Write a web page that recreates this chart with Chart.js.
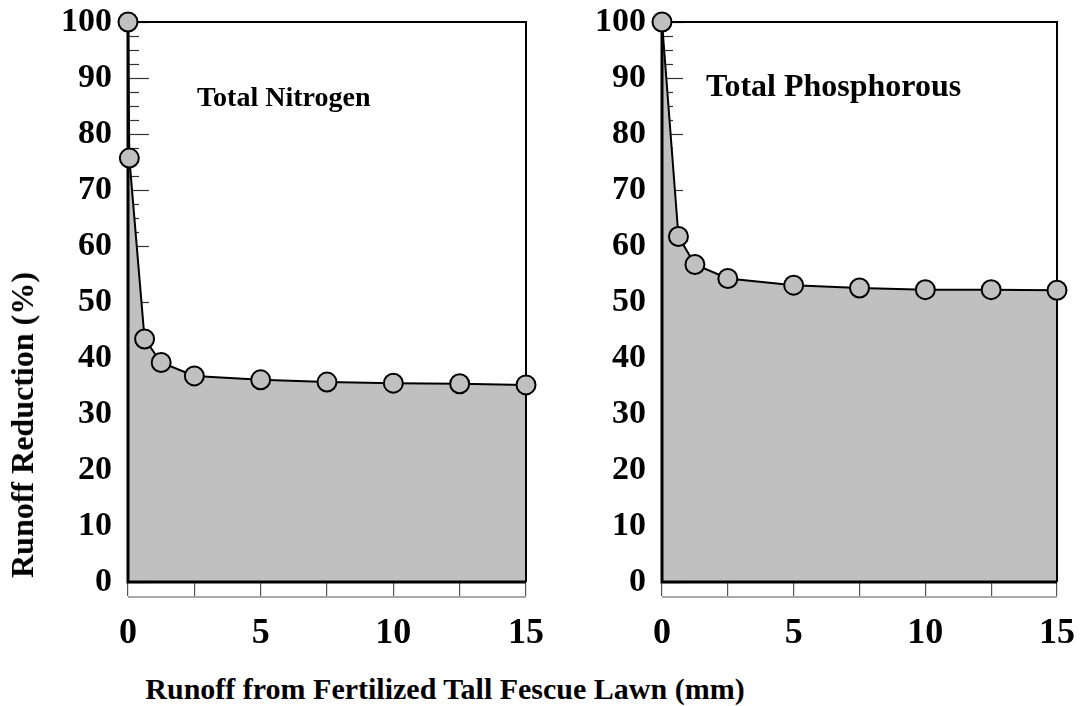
<!DOCTYPE html>
<html>
<head>
<meta charset="utf-8">
<script src="https://cdn.jsdelivr.net/npm/chart.js@4.4.0/dist/chart.umd.min.js"></script>
<style>
  html, body { margin: 0; padding: 0; background: #fff; overflow: hidden; }
  #wrap { position: relative; width: 1081px; height: 706px; font-family: "Liberation Serif", "Times New Roman", serif; font-weight: bold; color: #000; }
  .box { position: absolute; top: 0; height: 660px; }
  #boxN { left: 0; width: 545px; }
  #boxP { left: 540px; width: 541px; }
  .lbl { position: absolute; white-space: nowrap; line-height: 1; }
</style>
</head>
<body>
<div id="wrap">
  <div class="box" id="boxN"><canvas id="chartN"></canvas></div>
  <div class="box" id="boxP"><canvas id="chartP"></canvas></div>
  <div class="lbl" id="titleN" style="left:197px;top:83px;font-size:28px">Total Nitrogen</div>
  <div class="lbl" id="titleP" style="left:706px;top:69px;font-size:32px">Total Phosphorous</div>
  <div class="lbl" id="yTitle" style="left:22px;top:425px;font-size:32px;transform:translate(-50%,-50%) rotate(-90deg)">Runoff Reduction (%)</div>
  <div class="lbl" id="xTitle" style="left:445px;top:689px;font-size:30px;transform:translate(-50%,-50%)">Runoff from Fertilized Tall Fescue Lawn (mm)</div>
</div>
<script>
// Runoff depth (mm) and % reduction
const nitrogenX = [0, 0.05, 0.625, 1.25, 2.5, 5, 7.5, 10, 12.5, 15];
const nitrogenY = [100, 75.7, 43.4, 39.2, 36.8, 36.1, 35.7, 35.5, 35.4, 35.2];
const phosphorusX = [0, 0.625, 1.25, 2.5, 5, 7.5, 10, 12.5, 15];
const phosphorusY = [100, 61.7, 56.7, 54.2, 53.0, 52.5, 52.2, 52.2, 52.1];

const xTickLabels = [0, 5, 10, 15];
const yTickLabels = [0, 10, 20, 30, 40, 50, 60, 70, 80, 90, 100];

const FONT = '"Liberation Serif", "Times New Roman", serif';

// inner y ticks (under the fill), frame lines, and the strip below the x axis
const framePlugin = {
  id: 'frame',
  beforeDraw(chart) {
    const { ctx, chartArea: a, scales: { y } } = chart;
    ctx.save();
    ctx.strokeStyle = '#333';
    ctx.lineWidth = 1.2;
    y.ticks.forEach(t => {
      const py = Math.round(y.getPixelForValue(t.value)) + 0.5;
      const len = yTickLabels.includes(t.value) ? 21 : 11;
      ctx.beginPath();
      ctx.moveTo(a.left, py);
      ctx.lineTo(a.left + len, py);
      ctx.stroke();
    });
    ctx.restore();
  },
  beforeDatasetsDraw(chart) {
    const { ctx, chartArea: a } = chart;
    ctx.save();
    ctx.strokeStyle = '#000';
    ctx.lineWidth = 2;
    ctx.beginPath();
    ctx.moveTo(a.left, a.top);
    ctx.lineTo(a.right, a.top);
    ctx.lineTo(a.right, a.bottom);
    ctx.stroke();
    ctx.lineWidth = 3;
    ctx.beginPath();
    ctx.moveTo(a.left, a.top);
    ctx.lineTo(a.left, a.bottom);
    ctx.lineTo(a.right, a.bottom);
    ctx.stroke();
    ctx.restore();
  },
  afterDraw(chart) {
    const { ctx, chartArea: a } = chart;
    ctx.save();
    ctx.strokeStyle = '#555';
    ctx.lineWidth = 1.2;
    ctx.beginPath();
    ctx.moveTo(a.left, a.bottom + 15);
    ctx.lineTo(a.right, a.bottom + 15);
    ctx.stroke();
    ctx.restore();
  },
};

function makeChart(id, xs, ys, yAxisWidth, padRight) {
  return new Chart(document.getElementById(id), {
    type: 'line',
    data: {
      datasets: [{
        data: xs.map((x, i) => ({ x, y: ys[i] })),
        borderColor: '#000',
        borderWidth: 2,
        backgroundColor: '#c0c0c0',
        fill: 'origin',
        tension: 0,
        pointRadius: 9.5,
        pointHoverRadius: 9.5,
        pointBackgroundColor: '#c0c0c0',
        pointBorderColor: '#000',
        pointBorderWidth: 2,
        clip: false,
      }],
    },
    options: {
      responsive: true,
      maintainAspectRatio: false,
      animation: false,
      events: [],
      layout: { padding: { left: 0, top: 22, right: padRight, bottom: 0 } },
      plugins: {
        legend: { display: false },
        tooltip: { enabled: false },
        filler: { drawTime: 'beforeDatasetsDraw' },
      },
      scales: {
        x: {
          type: 'linear',
          min: 0,
          max: 15,
          afterFit: s => { s.height = 78; s.paddingLeft = 0; s.paddingRight = 0; },
          border: { display: false },
          grid: { drawOnChartArea: false, drawTicks: true, tickLength: 14, color: '#555', lineWidth: 1.2 },
          ticks: {
            stepSize: 2.5,
            autoSkip: false,
            maxRotation: 0,
            padding: 16,
            color: '#000',
            font: { family: FONT, size: 36, weight: 'bold' },
            callback: v => xTickLabels.includes(v) ? String(v) : '',
          },
        },
        y: {
          min: 0,
          max: 100,
          afterFit: s => { s.width = yAxisWidth; s.paddingTop = 0; s.paddingBottom = 0; },
          border: { display: false },
          grid: { display: false, drawTicks: false },
          ticks: {
            stepSize: 2.5,
            maxTicksLimit: 100,
            autoSkip: false,
            padding: 16,
            color: '#000',
            font: { family: FONT, size: 34, weight: 'bold' },
            callback: v => yTickLabels.includes(v) ? String(v) : '',
          },
        },
      },
    },
    plugins: [framePlugin],
  });
}

makeChart('chartN', nitrogenX, nitrogenY, 128, 19);
makeChart('chartP', phosphorusX, phosphorusY, 122, 24);
</script>
</body>
</html>
